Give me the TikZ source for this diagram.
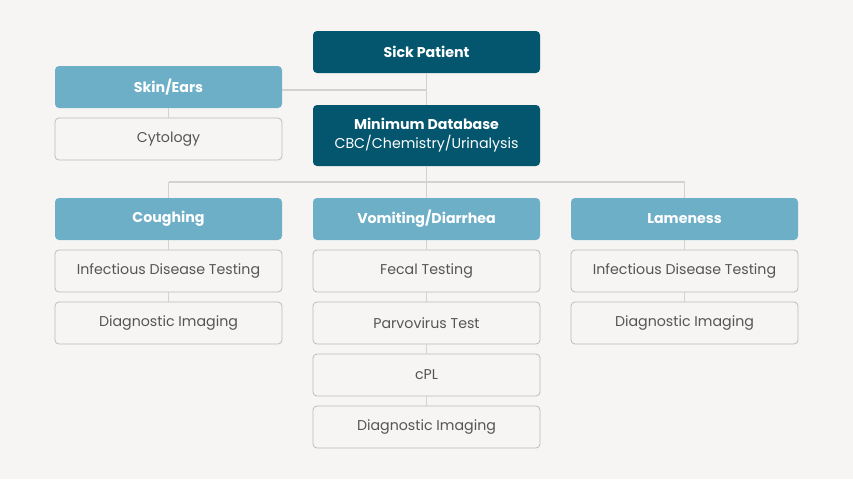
\documentclass[tikz,border=0pt]{standalone}
\usepackage{fontspec}
\setmainfont{Poppins}
\definecolor{bgcol}{HTML}{F6F5F3}
\definecolor{darkteal}{HTML}{03566E}
\definecolor{lightteal}{HTML}{6EAFC8}
\definecolor{boxline}{HTML}{BDBCBA}
\definecolor{linkcol}{HTML}{D3D2D0}
\definecolor{txtcol}{HTML}{555555}
\begin{document}
\begin{tikzpicture}[x=1pt, y=-1pt,
			font=\fontsize{14.2}{16}\selectfont,
			base/.style={rectangle, rounded corners=4pt, minimum width=227pt, minimum height=42pt, inner sep=2pt, align=center},
			root/.style={base, fill=darkteal, text=white, font=\fontsize{14.2}{19}\selectfont\bfseries},
			topic/.style={base, fill=lightteal, text=white, font=\fontsize{14.2}{16}\selectfont\bfseries},
			test/.style={base, fill=bgcol, draw=boxline, line width=0.8pt, text=txtcol},
			link/.style={draw=linkcol, line width=1.2pt}]
		\fill[bgcol] (0,0) rectangle (853,479);
		% bus points for the branch links
		\coordinate (bus) at (426.5,182);
		\coordinate (busl) at (168.5,182);
		\coordinate (busr) at (684.5,182);
		% top column
		\node[root]                          (sick) at (426.5,52)    {Sick Patient};
		\node[root, minimum height=61pt]     (mdb)  at (426.5,135.5) {Minimum Database\\{\mdseries CBC/Chemistry/Urinalysis}};
		% skin branch on the left
		\node[topic] (skin) at (168.5,87)  {Skin/Ears};
		\node[test]  (cyto) at (168.5,139) {Cytology};
		% three branches below the database
		\node[topic] (cough) at (168.5,219) {Coughing};
		\node[test]  (cidt)  at (168.5,271) {Infectious Disease Testing};
		\node[test]  (cdi)   at (168.5,323) {Diagnostic Imaging};
		\node[topic] (vomit) at (426.5,219) {Vomiting/Diarrhea};
		\node[test]  (fecal) at (426.5,271) {Fecal Testing};
		\node[test]  (parvo) at (426.5,323) {Parvovirus Test};
		\node[test]  (cpl)   at (426.5,375) {cPL};
		\node[test]  (vdi)   at (426.5,427) {Diagnostic Imaging};
		\node[topic] (lame)  at (684.5,219) {Lameness};
		\node[test]  (lidt)  at (684.5,271) {Infectious Disease Testing};
		\node[test]  (ldi)   at (684.5,323) {Diagnostic Imaging};
		% links
		\draw[link] (sick) -- (mdb);
		\draw[link] (skin.east |- 0,90) -- (426.5,90);
		\draw[link] (skin) -- (cyto);
		\draw[link] (mdb) -- (bus);
		\draw[link] (busl) -- (busr);
		\draw[link] (busl) -- (cough);
		\draw[link] (bus) -- (vomit);
		\draw[link] (busr) -- (lame);
		\draw[link] (cough) -- (cidt);
		\draw[link] (cidt) -- (cdi);
		\draw[link] (vomit) -- (fecal);
		\draw[link] (fecal) -- (parvo);
		\draw[link] (parvo) -- (cpl);
		\draw[link] (cpl) -- (vdi);
		\draw[link] (lame) -- (lidt);
		\draw[link] (lidt) -- (ldi);
	\end{tikzpicture}
\end{document}
